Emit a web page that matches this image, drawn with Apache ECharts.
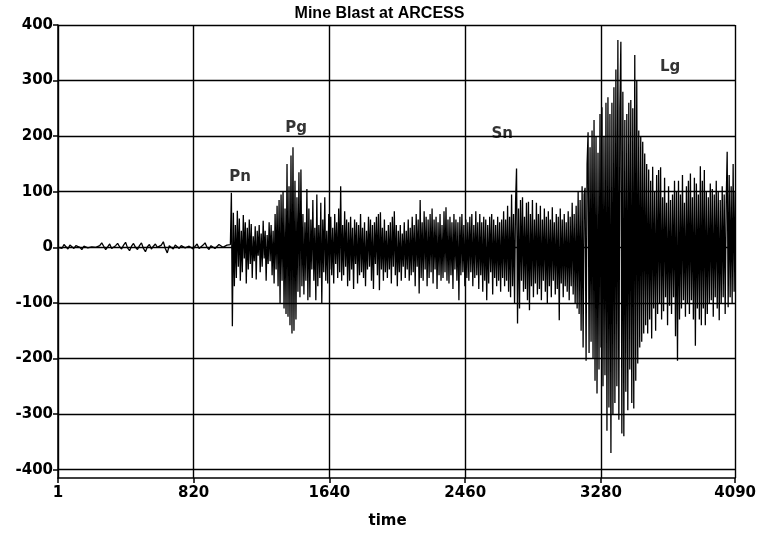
<!DOCTYPE html>
<html>
<head>
<meta charset="utf-8">
<script src="https://cdn.jsdelivr.net/npm/echarts@6/dist/echarts.min.js"></script>
<style>html,body{margin:0;padding:0;background:#fff}#c{width:759px;height:536px}</style>
</head>
<body>
<div id="c"></div>
<script>
const titleText = 'Mine Blast at ARCESS';
const xTickValues = [1, 820, 1640, 2460, 3280, 4090];
const yTickValues = [-400, -300, -200, -100, 0, 100, 200, 300, 400];

// pre-event noise: samples start at t=1, every 12 time units
const quietStart = 1;
const quietStep = 12;
const quietValues = [
  0, 3, -2, 5, 1, -3, 4, 2, -2, 3,
  6, 0, -4, 2, 5, -1, -3, 1, 4, 0,
  -2, 3, 8, 2, -4, 1, 6, -2, -5, 3,
  7, 1, -3, 4, 9, -1, -6, 2, 7, 0,
  -4, 3, 8, -2, -8, 1, 5, -3, 2, 6,
  0, -3, 4, 10, -2, -10, 3, 2, -3, 4,
  1, -2, 3, 5, -1, -4, 2, 1, -3, 2,
  6, -2, -5, 4, 8, 0, -4, 3, 6, -2,
  -5, 5, 7, 0, -3, 4, 2
];

// event signal: samples start at t=1042, every 6 time units
const signalStart = 1042;
const signalStep = 6;
const signalValues = [
  5, 98, -142, 62, -70, 40, -55, 66, -35, 52,
  -60, 30, -45, 58, -20, 45, -65, 35, -40, 50,
  -30, 42, -55, 20, -25, 38, -58, 30, -15, 40,
  -45, 25, -35, 48, -20, 30, -60, 22, -30, 45,
  -25, 40, -50, 30, -65, 60, -40, 75, -70, 85,
  -100, 95, -60, 100, -110, 70, -120, 150, -125, 110,
  -140, 165, -155, 180, -150, 120, -130, 90, -80, 135,
  -90, 140, -70, 60, -85, 45, -60, 105, -95, 70,
  -90, 50, -40, 85, -60, 35, -95, 95, -70, 40,
  -55, 80, -100, 50, -45, 90, -60, 30, -65, 60,
  -40, 55, -50, 35, -65, 60, -30, 45, -55, 70,
  -45, 110, -60, 40, -50, 65, -35, 50, -70, 45,
  -60, 55, -40, 35, -75, 50, -30, 45, -65, 40,
  -50, 60, -45, 35, -55, 45, -70, 30, -40, 55,
  -35, 50, -60, 40, -75, 45, -30, 55, -50, 60,
  -77, 63, -40, 35, -60, 50, -45, 30, -55, 40,
  -40, 45, -65, 55, -35, 65, -50, 40, -70, 30,
  -45, 40, -60, 25, -35, 45, -55, 30, -40, 50,
  -60, 35, -50, 55, -45, 40, -70, 60, -35, 50,
  -83, 85, -55, 45, -60, 65, -40, 55, -70, 50,
  -55, 60, -45, 70, -65, 50, -40, 55, -75, 45,
  -50, 60, -60, 40, -55, 65, -45, 72, -60, 50,
  -65, 55, -50, 45, -75, 60, -40, 50, -60, 45,
  -95, 55, -50, 60, -45, 40, -70, 50, -55, 45,
  -60, 55, -45, 60, -70, 40, -55, 65, -50, 45,
  -75, 60, -50, 45, -80, 55, -60, 50, -95, 40,
  -65, 55, -45, 60, -85, 50, -55, 40, -70, 55,
  -60, 45, -80, 50, -55, 65, -70, 50, -60, 75,
  -80, 55, -90, 95, -70, 60, -100, 80, 142, -137,
  70, -110, 85, -60, 90, -80, 55, -75, 80, -95,
  82, -113, 60, -70, 85, -90, 50, -65, 80, -85,
  60, -75, 75, -95, 50, -60, 70, -80, 55, -100,
  65, -70, 50, -90, 72, -60, 45, -85, 60, -75,
  55, -131, 70, -65, 50, -90, 60, -70, 45, -80,
  65, -95, 55, -70, 80, -85, 60, -100, 75, -110,
  100, -120, 85, -150, 110, -180, 95, 107, -204, 150,
  207, -190, 180, -170, 210, -200, 229, -240, 200, -263,
  170, -220, 240, -180, 252, -250, 200, -230, 260, -330,
  270, -288, 240, -370, 260, -300, 288, -280, 320, -250,
  373, -310, 250, 370, -335, 280, -340, 229, -260, 240,
  -293, 260, -220, 265, -280, 250, -290, 346, -240, 300,
  -209, 210, -180, 200, -170, 190, -155, 169, -140, 150,
  -155, 140, -130, 120, -164, 145, -110, 100, -150, 130,
  -120, 139, -100, 144, -130, 90, -115, 125, -90, 80,
  -140, 110, -105, 85, -120, 95, -90, 120, -160, 100,
  -204, 120, -130, 95, -110, 130, -95, 80, -125, 110,
  -100, 120, -120, 133, -95, 90, -130, 125, -177, 115,
  -110, 95, -130, 146, -140, 120, -110, 139, -140, 100,
  -120, 90, -100, 115, -95, 105, -125, 95, -90, 120,
  -110, 100, -131, 85, -100, 110, -90, 95, -120, 80,
  172, -108, 130, -90, 110, -100, 150, -80, 100
];

// phase labels
const phaseNames = ['Pn', 'Pg', 'Sn', 'Lg'];
const phaseTimes = [1100, 1439, 2683, 3698];
const phaseLevels = [126, 215, 204, 325];

const traceData = [];
quietValues.forEach((v, i) => traceData.push([quietStart + i * quietStep, v]));
signalValues.forEach((v, i) => traceData.push([signalStart + i * signalStep, v]));
const phaseData = phaseNames.map((n, i) => ({ value: [phaseTimes[i], phaseLevels[i]], name: n }));

const titleFont = 'Liberation Sans, Arial, sans-serif';
const font = 'DejaVu Sans, sans-serif';
const chart = echarts.init(document.getElementById('c'), null, { renderer: 'canvas' });
chart.setOption({
  animation: false,
  backgroundColor: '#fff',
  title: {
    text: titleText, left: 'center', top: 1,
    textStyle: { fontFamily: titleFont, fontWeight: 'bold', fontSize: 16, color: '#000' }
  },
  grid: { left: 58, right: 23, top: 25, bottom: 58, containLabel: false },
  xAxis: {
    type: 'value', min: 1, max: 4090,
    name: 'time', nameLocation: 'middle', nameGap: 36,
    nameTextStyle: { fontFamily: font, fontWeight: 'bold', fontSize: 15, color: '#000', padding: [0, 18, 0, 0] },
    axisLine: { onZero: false, lineStyle: { color: '#000', width: 1.5 } },
    axisTick: { show: true, customValues: xTickValues, length: 5, lineStyle: { color: '#000', width: 1.5 } },
    axisLabel: { customValues: xTickValues, formatter: v => String(v), fontFamily: font, fontWeight: 'bold', fontSize: 15, color: '#000', margin: 8 },
    splitLine: { show: true, lineStyle: { color: '#000', width: 1.4 } }
  },
  yAxis: {
    type: 'value', min: -415, max: 400,
    axisLine: { show: true, lineStyle: { color: '#000', width: 1.5 } },
    axisTick: { show: true, customValues: yTickValues, length: 5, lineStyle: { color: '#000', width: 1.5 } },
    axisLabel: { customValues: yTickValues, formatter: v => String(v), fontFamily: font, fontWeight: 'bold', fontSize: 15, color: '#000', margin: 5 },
    splitLine: { show: true, lineStyle: { color: '#000', width: 1.4 } }
  },
  series: [
    {
      type: 'line', data: traceData, showSymbol: false, symbol: 'none',
      lineStyle: { color: '#000', width: 1.3 }, sampling: null, z: 3
    },
    {
      type: 'scatter', data: phaseData, symbolSize: 0, z: 4,
      label: {
        show: true, position: 'inside', formatter: p => p.name,
        fontFamily: font, fontWeight: 'bold', fontSize: 15, color: '#000'
      }
    }
  ]
});
</script>
</body>
</html>
